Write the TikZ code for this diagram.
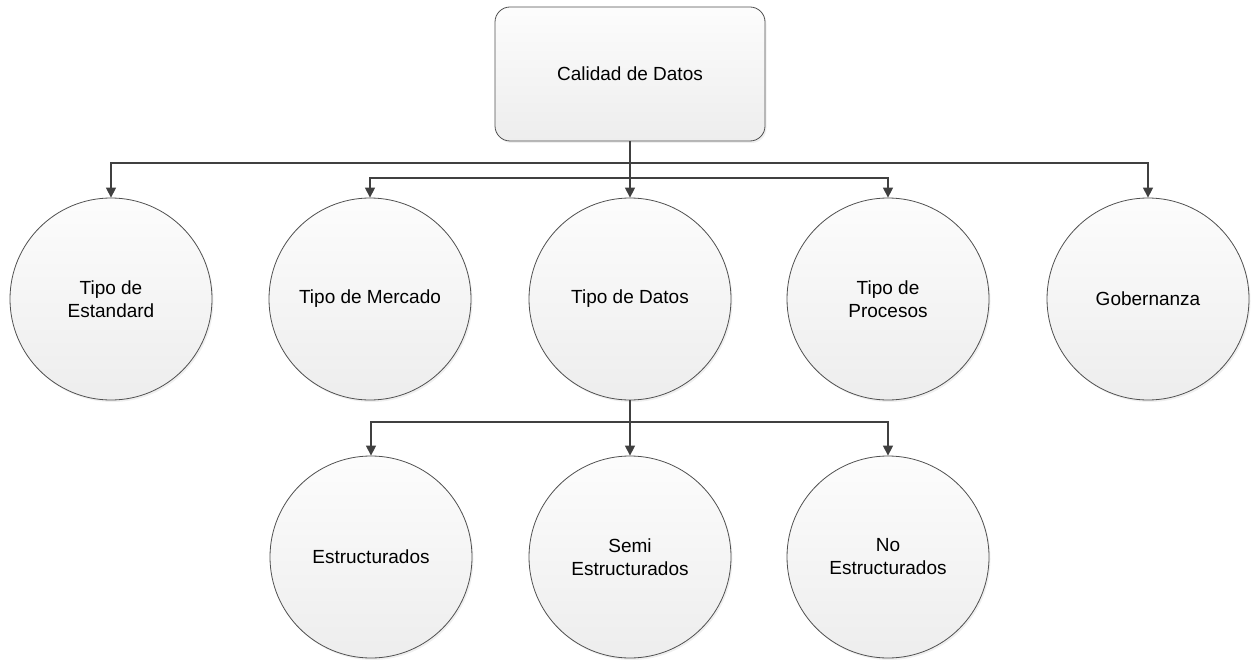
\documentclass[tikz,border=0pt]{standalone}
\usepackage{fontspec}
\setmainfont{Liberation Sans}
\usetikzlibrary{arrows.meta,shadows}
\definecolor{edge}{HTML}{505050}
\definecolor{conn}{HTML}{404040}
\tikzset{
  base/.style={draw=edge, line width=0.8pt, top color=white!99!black, bottom color=white!93!black,
    drop shadow={shadow xshift=1.5pt, shadow yshift=-2pt, fill=black!12}, align=center,
    font=\fontsize{19}{23}\selectfont, text=black, inner sep=0pt},
  topbox/.style={base, rounded corners=15pt, minimum width=270pt, minimum height=134pt},
  circ/.style={base, circle, minimum size=202pt},
  link/.style={draw=conn, line width=1.4pt, -{Triangle[length=10pt, width=10pt]}}
}
\begin{document}
\begin{tikzpicture}[x=1pt,y=1pt]
\useasboundingbox (0,0) rectangle (1257,-660);
\node[topbox] (top) at (630,-74) {Calidad de Datos};
\node[circ] (est) at (111,-299) {Tipo de\\Estandard};
\node[circ] (mer) at (370,-299) {Tipo de Mercado};
\node[circ] (dat) at (630,-299) {Tipo de Datos};
\node[circ] (pro) at (888,-299) {Tipo de\\Procesos};
\node[circ] (gob) at (1148,-299) {Gobernanza};
\node[circ] (str) at (371,-557) {Estructurados};
\node[circ] (sem) at (630,-557) {Semi\\Estructurados};
\node[circ] (nos) at (888,-557) {No\\Estructurados};
\coordinate (busA) at (630,-163);
\coordinate (busB) at (630,-178);
\coordinate (busC) at (630,-422);
\draw[link] (top.south) -- (dat.north);
\draw[link] (busA) -| (est.north);
\draw[link] (busA) -| (gob.north);
\draw[link] (busB) -| (mer.north);
\draw[link] (busB) -| (pro.north);
\draw[link] (dat.south) -- (sem.north);
\draw[link] (busC) -| (str.north);
\draw[link] (busC) -| (nos.north);
\end{tikzpicture}
\end{document}
